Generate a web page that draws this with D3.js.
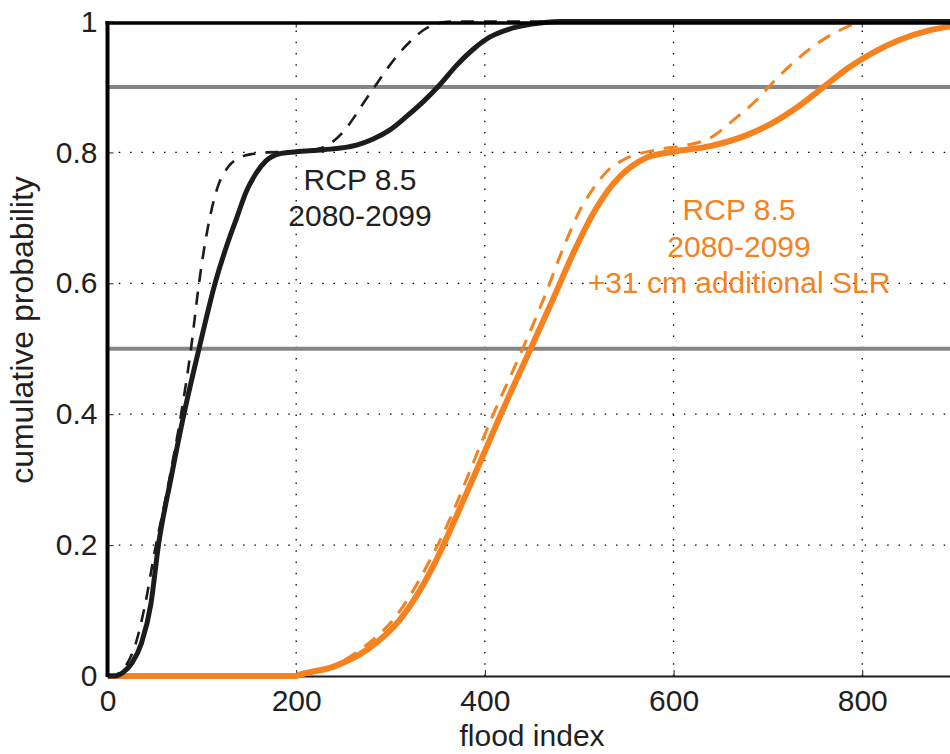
<!DOCTYPE html>
<html>
<head>
<meta charset="utf-8">
<script src="https://cdn.jsdelivr.net/npm/d3@7"></script>
<style>
  body { margin: 0; background: #fff; }
  svg { display: block; font-family: "Liberation Sans", Arial, Helvetica, sans-serif; }
</style>
</head>
<body>
<svg id="chart" width="950" height="754"></svg>
<script>
// flood index / cumulative probability
var blackSolidX  = [0, 8, 16, 26, 36, 46, 54, 67, 81, 97, 114, 127, 137, 147, 157, 168, 182, 200, 229, 264, 281, 299, 317, 335, 352, 370, 388, 405, 425, 450, 480, 900];
var blackSolidP  = [0, 0, 0.005, 0.02, 0.05, 0.11, 0.2, 0.3, 0.4, 0.5, 0.6, 0.66, 0.7, 0.74, 0.767, 0.787, 0.798, 0.801, 0.804, 0.811, 0.82, 0.834, 0.855, 0.878, 0.903, 0.933, 0.958, 0.976, 0.988, 0.996, 1, 1];
var blackDashX   = [0, 5, 12, 20, 30, 40, 50, 60, 70, 78, 88.5, 97, 107, 117, 128, 140, 155, 170, 200, 215, 230, 241, 252, 262, 272, 283, 296, 310, 322, 335, 350, 365, 900];
var blackDashP   = [0, 0, 0.004, 0.017, 0.05, 0.11, 0.19, 0.26, 0.335, 0.4, 0.5, 0.6, 0.69, 0.748, 0.778, 0.792, 0.798, 0.8, 0.801, 0.803, 0.809, 0.819, 0.835, 0.855, 0.877, 0.9, 0.927, 0.953, 0.971, 0.987, 0.997, 1, 1];
var orangeSolidX = [0, 200, 204, 239, 275, 310, 345, 356, 382, 402, 417, 448.5, 472, 495, 517, 536, 554, 571, 600, 640, 677, 706, 733, 759, 785, 812, 840, 870, 900];
var orangeSolidP = [0, 0, 0.002, 0.014, 0.04, 0.086, 0.167, 0.2, 0.284, 0.35, 0.4, 0.5, 0.575, 0.65, 0.712, 0.752, 0.777, 0.792, 0.801, 0.81, 0.826, 0.846, 0.871, 0.9, 0.929, 0.953, 0.972, 0.986, 0.994];
var orangeDashX  = [0, 195, 230, 267.6, 305, 350, 409, 440, 462, 482, 502, 515, 530, 546, 582, 614, 638.6, 663, 688, 706, 730, 755, 770, 800, 830, 900];
var orangeDashP  = [0, 0, 0.01, 0.04, 0.09, 0.2, 0.4, 0.5, 0.575, 0.65, 0.715, 0.745, 0.772, 0.788, 0.804, 0.811, 0.822, 0.849, 0.88, 0.908, 0.941, 0.969, 0.982, 0.998, 1, 1];

var xTicks = [0, 200, 400, 600, 800];
var yTicks = [0, 0.2, 0.4, 0.6, 0.8, 1];
var yTickLabels = ["0", "0.2", "0.4", "0.6", "0.8", "1"];
var refLevels = [0.5, 0.9];

var black = "#1c1c1c",
    orange = "#f5821f";

var svg = d3.select("#chart"),
    xScale = d3.scaleLinear().domain([0, 900]).range([107.5, 956.6]),
    yScale = d3.scaleLinear().domain([0, 1]).range([676, 21.5]);

svg.append("defs").append("clipPath").attr("id", "plot-clip")
    .append("rect")
    .attr("x", xScale(0)).attr("y", yScale(1) - 4)
    .attr("width", 950 - xScale(0)).attr("height", yScale(0) - yScale(1) + 8);

// dotted grid
var grid = svg.append("g").attr("class", "grid");
grid.selectAll(".vgrid")
    .data(xTicks.filter(d => d > 0))
    .enter().append("line")
    .attr("x1", d => xScale(d)).attr("x2", d => xScale(d))
    .attr("y1", yScale(0)).attr("y2", yScale(1))
    .attr("stroke", "#000").attr("stroke-width", 1.3)
    .attr("stroke-dasharray", "1.5,9.8");
grid.selectAll(".hgrid")
    .data(yTicks.filter(d => d > 0 && d < 1))
    .enter().append("line")
    .attr("x1", xScale(0)).attr("x2", 950)
    .attr("y1", d => yScale(d)).attr("y2", d => yScale(d))
    .attr("stroke", "#000").attr("stroke-width", 1.3)
    .attr("stroke-dasharray", "1.5,9.8");

// grey reference levels
svg.selectAll(".ref")
    .data(refLevels)
    .enter().append("line")
    .attr("class", "ref")
    .attr("x1", xScale(0)).attr("x2", 950)
    .attr("y1", d => yScale(d)).attr("y2", d => yScale(d))
    .attr("stroke", "#858585").attr("stroke-width", 4);

// axes
var xAxis = svg.append("g")
    .attr("transform", `translate(0,${yScale(0)})`)
    .call(d3.axisBottom(xScale).tickValues(xTicks).tickSizeInner(-6).tickSizeOuter(0).tickPadding(14));
xAxis.select(".domain").attr("stroke", black).attr("stroke-width", 2);

var yAxis = svg.append("g")
    .attr("transform", `translate(${xScale(0)},0)`)
    .call(d3.axisLeft(yScale).tickValues(yTicks).tickFormat((d, i) => yTickLabels[i]).tickSizeInner(-6).tickSizeOuter(0).tickPadding(10));
yAxis.select(".domain").remove();

svg.selectAll(".tick text")
    .attr("font-size", "30px")
    .attr("fill", "#231f20");
svg.selectAll(".tick line").attr("stroke", black);

// top ticks
svg.selectAll(".top-tick")
    .data(xTicks.filter(d => d > 0))
    .enter().append("line")
    .attr("x1", d => xScale(d)).attr("x2", d => xScale(d))
    .attr("y1", yScale(1)).attr("y2", yScale(1) + 6)
    .attr("stroke", black);

// curves
var line = d3.line().curve(d3.curveMonotoneX);
function pts(xs, ps) { return xs.map((x, i) => [xScale(x), yScale(ps[i])]); }

var curves = svg.append("g").attr("clip-path", "url(#plot-clip)");
var series = [
    {x: orangeSolidX, p: orangeSolidP, color: orange, w: 6, dash: null},
    {x: orangeDashX, p: orangeDashP, color: orange, w: 3, dash: "14,10"},
    {x: blackSolidX, p: blackSolidP, color: black, w: 5, dash: null},
    {x: blackDashX, p: blackDashP, color: black, w: 2.6, dash: "13,10"}
];
curves.selectAll("path")
    .data(series)
    .enter().append("path")
    .attr("d", d => line(pts(d.x, d.p)))
    .attr("fill", "none")
    .attr("stroke", d => d.color)
    .attr("stroke-width", d => d.w)
    .attr("stroke-dasharray", d => d.dash);

// frame: thick left and top spines
svg.append("line")
    .attr("x1", xScale(0)).attr("x2", xScale(0))
    .attr("y1", yScale(1) - 0.5).attr("y2", yScale(0) + 1)
    .attr("stroke", "#000").attr("stroke-width", 4);
svg.append("line")
    .attr("x1", xScale(0) - 2).attr("x2", 950)
    .attr("y1", yScale(1) + 1.5).attr("y2", yScale(1) + 1.5)
    .attr("stroke", "#000").attr("stroke-width", 3.5);

// labels
svg.append("text")
    .attr("x", (xScale(0) + xScale(900)) / 2)
    .attr("y", 746)
    .attr("text-anchor", "middle")
    .attr("font-size", "30px")
    .attr("fill", "#231f20")
    .text("flood index");

svg.append("text")
    .attr("transform", "translate(33,330) rotate(-90)")
    .attr("text-anchor", "middle")
    .attr("font-size", "32px")
    .attr("fill", "#231f20")
    .text("cumulative probability");

var blackNote = ["RCP 8.5", "2080-2099"];
var orangeNote = ["RCP 8.5", "2080-2099", "+31 cm additional SLR"];

svg.append("text")
    .attr("text-anchor", "middle")
    .attr("font-size", "30px")
    .attr("fill", "#231f20")
    .selectAll("tspan")
    .data(blackNote)
    .enter().append("tspan")
    .attr("x", 360)
    .attr("y", (d, i) => 190 + i * 35.5)
    .text(d => d);

svg.append("text")
    .attr("text-anchor", "middle")
    .attr("font-size", "30px")
    .attr("fill", orange)
    .selectAll("tspan")
    .data(orangeNote)
    .enter().append("tspan")
    .attr("x", 739)
    .attr("y", (d, i) => 220 + i * 36.5)
    .text(d => d);
</script>
</body>
</html>
